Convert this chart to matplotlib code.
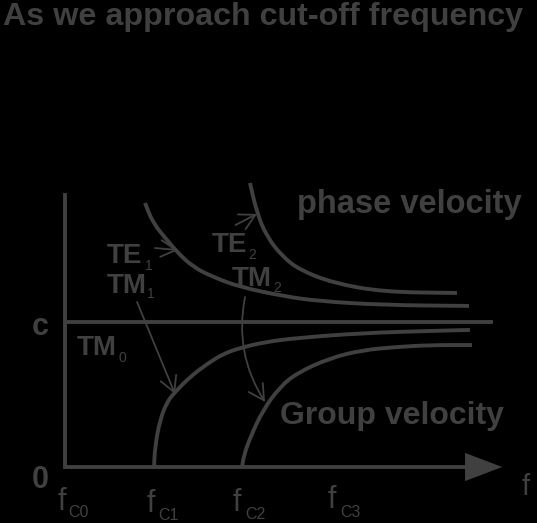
import numpy as np
import matplotlib.pyplot as plt
from matplotlib.patches import FancyArrowPatch, PathPatch
from matplotlib.path import Path

plt.rcParams['font.family'] = ['Liberation Sans', 'DejaVu Sans']

grey = '#404040'

# cut-off frequencies (f axis units) and the speed of light level
f_cut = [0, 1, 2, 3]
f_cut_names = ['C0', 'C1', 'C2', 'C3']
c_level = 1.0

# phase velocity curves (f, v/c)
phase1_f = [0.904, 0.994, 1.153, 1.266, 1.446, 1.672, 1.977, 2.463, 2.847, 3.593, 4.565]
phase1_v = [1.814, 1.677, 1.560, 1.478, 1.375, 1.306, 1.237, 1.175, 1.141, 1.113, 1.107]
phase2_f = [2.090, 2.169, 2.282, 2.463, 2.655, 3.028, 3.593, 4.429]
phase2_v = [1.952, 1.746, 1.581, 1.443, 1.354, 1.265, 1.203, 1.196]

# group velocity curves
group1_f = [1.006, 1.017, 1.073, 1.153, 1.243, 1.412, 1.605, 1.785, 1.977, 2.260, 2.621, 3.367, 4.124, 4.576]
group1_v = [0.0, 0.137, 0.323, 0.447, 0.515, 0.619, 0.708, 0.777, 0.818, 0.859, 0.887, 0.921, 0.935, 0.942]
group2_f = [2.000, 2.023, 2.090, 2.237, 2.429, 2.621, 2.994, 3.367, 3.751, 4.124, 4.599]
group2_v = [0.0, 0.082, 0.199, 0.392, 0.550, 0.646, 0.749, 0.804, 0.825, 0.838, 0.838]

fig = plt.figure(figsize=(5.37, 5.23), dpi=100, facecolor='black')
ax = fig.add_axes([0, 0, 1, 1])
ax.set_facecolor('black')
ax.set_xlim(-65 / 88.5, 472 / 88.5)
ax.set_ylim(-56 / 145.5, 467 / 145.5)
ax.axis('off')

lw = 2.8
# axes: vertical v axis, f axis with arrow head, and the c line
ax.plot([0, 0], [1.869, 0], color=grey, lw=lw, solid_capstyle='projecting')
ax.plot([0, 4.55], [0, 0], color=grey, lw=lw, solid_capstyle='butt')
ax.fill([4.52, 4.94, 4.52], [0.097, 0, -0.097], color=grey, lw=0)
ax.plot([0, 4.836], [c_level, c_level], color=grey, lw=lw, solid_capstyle='butt')


def smooth_curve(fx, vy):
    # quadratic pieces through the mid points, drawn by matplotlib's Path
    pts = list(zip(fx, vy))
    verts = [pts[0]]
    codes = [Path.MOVETO]
    verts.append(((pts[0][0] + pts[1][0]) / 2, (pts[0][1] + pts[1][1]) / 2))
    codes.append(Path.LINETO)
    for i in range(1, len(pts) - 1):
        nxt = ((pts[i][0] + pts[i + 1][0]) / 2, (pts[i][1] + pts[i + 1][1]) / 2)
        verts += [pts[i], nxt]
        codes += [Path.CURVE3, Path.CURVE3]
    verts.append(pts[-1])
    codes.append(Path.LINETO)
    ax.add_patch(PathPatch(Path(verts, codes), fill=False, edgecolor=grey, lw=lw,
                           capstyle='butt', joinstyle='round'))


for fx, vy in [(phase1_f, phase1_v), (phase2_f, phase2_v), (group1_f, group1_v), (group2_f, group2_v)]:
    smooth_curve(fx, vy)


# labelling arrows
def arrow(p0, p1, rad=0.0):
    a = FancyArrowPatch(p0, p1, arrowstyle='->,head_length=0.55,head_width=0.3',
                        connectionstyle='arc3,rad=%s' % rad, mutation_scale=20,
                        color=grey, lw=1.3, shrinkA=0, shrinkB=0)
    ax.add_patch(a)


arrow((1.017, 1.505), (1.277, 1.491))   # TE1
arrow((1.927, 1.663), (2.169, 1.739))   # TE2
arrow((0.814, 1.134), (1.243, 0.502))   # TM1
arrow((2.034, 1.168), (2.260, 0.447), rad=0.2)   # TM2

bold = dict(color=grey, fontweight='bold')
fig.text(3 / 537, 1 - 25 / 523, 'As we approach cut-off frequency', fontsize=23.2,
         ha='left', va='baseline', **bold)
ax.text(2.621, 1.746, 'phase velocity', fontsize=23.5, ha='left', va='baseline', **bold)
ax.text(2.429, 0.296, 'Group velocity', fontsize=23, ha='left', va='baseline', **bold)

# mode labels with subscripts
modes = [('TE', '1', 0.475, 1.402, 0.904, 1.354),
         ('TM', '1', 0.475, 1.196, 0.927, 1.162),
         ('TE', '2', 1.661, 1.478, 2.068, 1.430),
         ('TM', '2', 1.887, 1.244, 2.350, 1.203),
         ('TM', '0', 0.136, 0.770, 0.599, 0.722)]
for name, sub, x, y, sx, sy in modes:
    ax.text(x, y, name, fontsize=20, ha='left', va='baseline', **bold)
    ax.text(sx, sy, sub, fontsize=10, ha='left', va='baseline', color=grey)

ax.text(-0.282, 0.907, 'c', fontsize=22, ha='center', va='baseline', **bold)
ax.text(-0.282, -0.144, '0', fontsize=22, ha='center', va='baseline', **bold)
ax.text(5.164, -0.192, 'f', fontsize=21, ha='left', va='baseline', color=grey)

f_x = [-0.079, 0.927, 1.898, 2.972]
f_y = [-0.296, -0.309, -0.305, -0.282]
s_x = [0.034, 1.051, 2.034, 3.107]
s_y = [-0.344, -0.365, -0.357, -0.344]
for i in range(len(f_cut)):
    ax.text(f_x[i], f_y[i], 'f', fontsize=22, ha='left', va='baseline', color=grey)
    ax.text(s_x[i], s_y[i], f_cut_names[i], fontsize=11.5, ha='left', va='baseline', color=grey)

fig.savefig('out.png', dpi=100, facecolor='black')
